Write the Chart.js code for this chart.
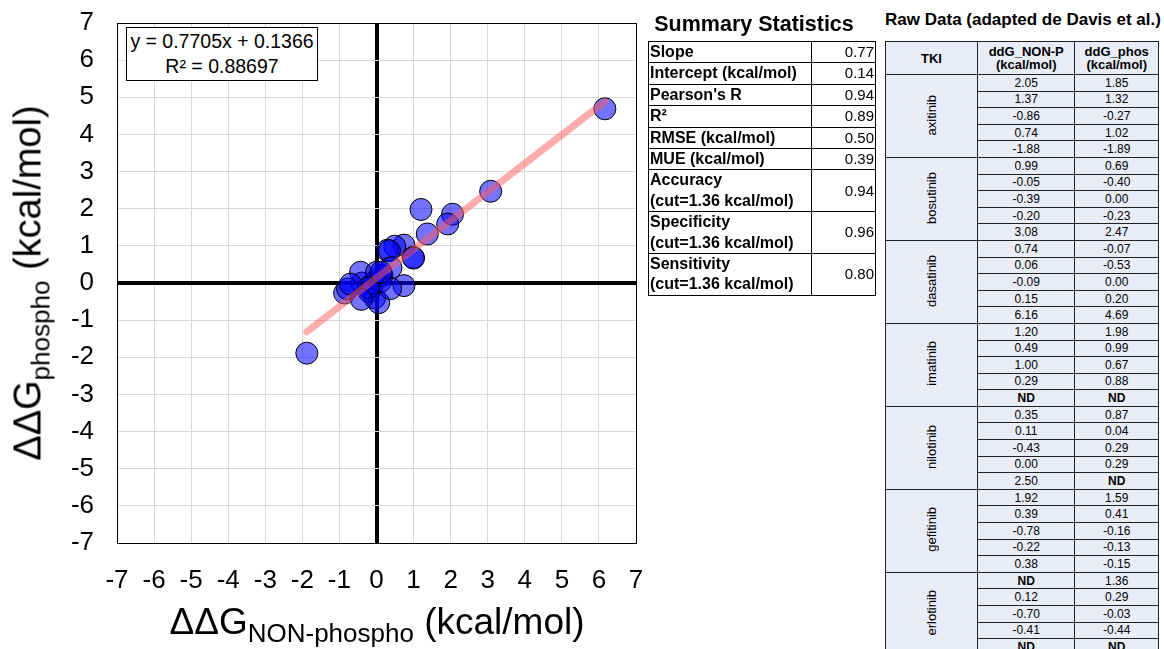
<!DOCTYPE html>
<html>
<head>
<meta charset="utf-8">
<script src="https://cdn.jsdelivr.net/npm/chart.js@4.4.1/dist/chart.umd.min.js"></script>
<style>
  html, body { margin: 0; padding: 0; background: #fff; overflow: hidden; }
  body { width: 1164px; height: 649px; position: relative; font-family: "Liberation Sans", Arial, sans-serif; color: #000; }
  #chartBox { position: absolute; left: 0; top: 0; width: 648px; height: 649px; }
  .axisTitle { position: absolute; line-height: 1; white-space: nowrap; }
  #yTitle { left: 31px; top: 283px; font-size: 38px; transform: translate(-50%, -50%) rotate(-90deg); }
  #yTitle sub { font-size: 26px; vertical-align: -9px; }
  #xTitle { left: 377px; top: 624px; font-size: 37px; transform: translate(-50%, -50%); }
  #xTitle sub { font-size: 26px; vertical-align: -8px; }
  #eqBox { position: absolute; left: 126px; top: 27px; width: 190px; height: 51px; border: 1px solid #000; background: #fff;
           font-size: 19.5px; line-height: 25px; text-align: center; white-space: nowrap; padding-top: 1px; box-sizing: content-box; }
  .title { position: absolute; font-weight: bold; white-space: nowrap; text-align: center; }
  #sumTitle { left: 640px; top: 12px; width: 228px; font-size: 21.5px; }
  #rawTitle { left: 882px; top: 10px; width: 282px; font-size: 17px; }
  table { border-collapse: collapse; position: absolute; }
  #sumTable { left: 648px; top: 41px; width: 228px; }
  #sumTable td { border: 1px solid #000; padding: 0 1px; line-height: 20.4px; }
  #sumTable td.lab { font-weight: bold; width: 160px; font-size: 16px; }
  #sumTable td.val { text-align: right; font-size: 15px; }
  #rawTable { left: 885px; top: 41px; width: 274px; font-size: 12px; background: #e9edf7; }
  #rawTable td, #rawTable th { border: 1px solid #222; padding: 0; text-align: center; line-height: 1; }
  #rawTable th { height: 32px; font-size: 13px; font-weight: bold; }
  #rawTable td { height: 15.6px; }
  #rawTable td.nd { font-weight: bold; }
  #rawTable td.tki { width: 91px; }
  #rawTable td.tki span { display: inline-block; writing-mode: vertical-rl; transform: rotate(180deg); font-size: 13px; }
</style>
</head>
<body>
<div id="chartBox"><canvas id="chart" width="648" height="649"></canvas></div>
<div id="eqBox">y = 0.7705x + 0.1366<br>R² = 0.88697</div>
<div class="axisTitle" id="yTitle">ΔΔG<sub>phospho</sub> (kcal/mol)</div>
<div class="axisTitle" id="xTitle">ΔΔG<sub>NON-phospho</sub> (kcal/mol)</div>

<div class="title" id="sumTitle">Summary Statistics</div>
<table id="sumTable"></table>
<div class="title" id="rawTitle">Raw Data (adapted de Davis et al.)</div>
<table id="rawTable"></table>

<script>
// raw data, null = ND
const tkiNames = ["axitinib", "bosutinib", "dasatinib", "imatinib", "nilotinib", "gefitinib", "erlotinib"];
const ddgNonPhos = [
  [2.05, 1.37, -0.86, 0.74, -1.88],
  [0.99, -0.05, -0.39, -0.20, 3.08],
  [0.74, 0.06, -0.09, 0.15, 6.16],
  [1.20, 0.49, 1.00, 0.29, null],
  [0.35, 0.11, -0.43, 0.00, 2.50],
  [1.92, 0.39, -0.78, -0.22, 0.38],
  [null, 0.12, -0.70, -0.41, null]
];
const ddgPhos = [
  [1.85, 1.32, -0.27, 1.02, -1.89],
  [0.69, -0.40, 0.00, -0.23, 2.47],
  [-0.07, -0.53, 0.00, 0.20, 4.69],
  [1.98, 0.99, 0.67, 0.88, null],
  [0.87, 0.04, 0.29, 0.29, null],
  [1.59, 0.41, -0.16, -0.13, -0.15],
  [1.36, 0.29, -0.03, -0.44, null]
];

// summary statistics
const statLabels = ["Slope", "Intercept (kcal/mol)", "Pearson's R", "R²", "RMSE (kcal/mol)", "MUE (kcal/mol)",
  "Accuracy<br>(cut=1.36 kcal/mol)", "Specificity<br>(cut=1.36 kcal/mol)", "Sensitivity<br>(cut=1.36 kcal/mol)"];
const statValues = ["0.77", "0.14", "0.94", "0.89", "0.50", "0.39", "0.94", "0.96", "0.80"];

// trend line coefficients
const slope = 0.7705;
const intercept = 0.1366;

const axisTicks = [-7, 7];

// build points from pairs where both values exist
const points = [];
ddgNonPhos.forEach((grp, i) => {
  grp.forEach((x, j) => {
    const y = ddgPhos[i][j];
    if (x !== null && y !== null) points.push({ x: x, y: y });
  });
});
const xs = points.map(p => p.x);
const xMin = Math.min(...xs), xMax = Math.max(...xs);
const trend = [{ x: xMin, y: slope * xMin + intercept }, { x: xMax, y: slope * xMax + intercept }];

function gridColor(ctx) {
  const v = ctx.tick.value;
  if (v === 0 || v === axisTicks[0] || v === axisTicks[1]) return "#000";
  return "#d9d9d9";
}
function gridWidth(ctx) {
  return ctx.tick.value === 0 ? 4 : 1;
}

const tickFont = { family: "Liberation Sans", size: 26 };

new Chart(document.getElementById("chart").getContext("2d"), {
  type: "scatter",
  data: {
    datasets: [
      {
        type: "line",
        data: trend,
        borderColor: "rgba(255,90,90,0.5)",
        borderWidth: 7,
        borderCapStyle: "round",
        pointRadius: 0,
        order: 0
      },
      {
        data: points,
        pointRadius: 11,
        backgroundColor: "rgba(0,0,255,0.55)",
        borderColor: "#000",
        borderWidth: 1,
        order: 1
      }
    ]
  },
  options: {
    responsive: false,
    animation: false,
    layout: { padding: { left: 0, right: 11, top: 23, bottom: 0 } },
    plugins: { legend: { display: false }, tooltip: { enabled: false } },
    scales: {
      x: {
        type: "linear",
        min: axisTicks[0],
        max: axisTicks[1],
        ticks: { stepSize: 1, color: "#000", font: tickFont, padding: 22, maxRotation: 0 },
        grid: { color: gridColor, lineWidth: gridWidth, drawTicks: false },
        border: { display: true, color: "#000", width: 1 },
        afterFit: (s) => { s.height = 106; s.paddingLeft = 0; s.paddingRight = 0; }
      },
      y: {
        type: "linear",
        min: axisTicks[0],
        max: axisTicks[1],
        ticks: { stepSize: 1, color: "#000", font: tickFont, padding: 23 },
        grid: { color: gridColor, lineWidth: gridWidth, drawTicks: false },
        border: { display: true, color: "#000", width: 1 },
        afterFit: (s) => { s.width = 117; s.paddingTop = 0; s.paddingBottom = 0; }
      }
    }
  }
});

// summary table
const sumTable = document.getElementById("sumTable");
statLabels.forEach((lab, i) => {
  const tr = document.createElement("tr");
  tr.innerHTML = '<td class="lab">' + lab + '</td><td class="val">' + statValues[i] + '</td>';
  sumTable.appendChild(tr);
});

// raw data table
const rawTable = document.getElementById("rawTable");
rawTable.innerHTML = '<tr><th>TKI</th><th>ddG_NON-P<br>(kcal/mol)</th><th>ddG_phos<br>(kcal/mol)</th></tr>';
const fmt = v => v === null ? "ND" : v.toFixed(2);
tkiNames.forEach((name, i) => {
  ddgNonPhos[i].forEach((x, j) => {
    const y = ddgPhos[i][j];
    const tr = document.createElement("tr");
    let html = "";
    if (j === 0) html += '<td class="tki" rowspan="' + ddgNonPhos[i].length + '"><span>' + name + '</span></td>';
    html += '<td' + (x === null ? ' class="nd"' : '') + '>' + fmt(x) + '</td>';
    html += '<td' + (y === null ? ' class="nd"' : '') + '>' + fmt(y) + '</td>';
    tr.innerHTML = html;
    rawTable.appendChild(tr);
  });
});
</script>
</body>
</html>
